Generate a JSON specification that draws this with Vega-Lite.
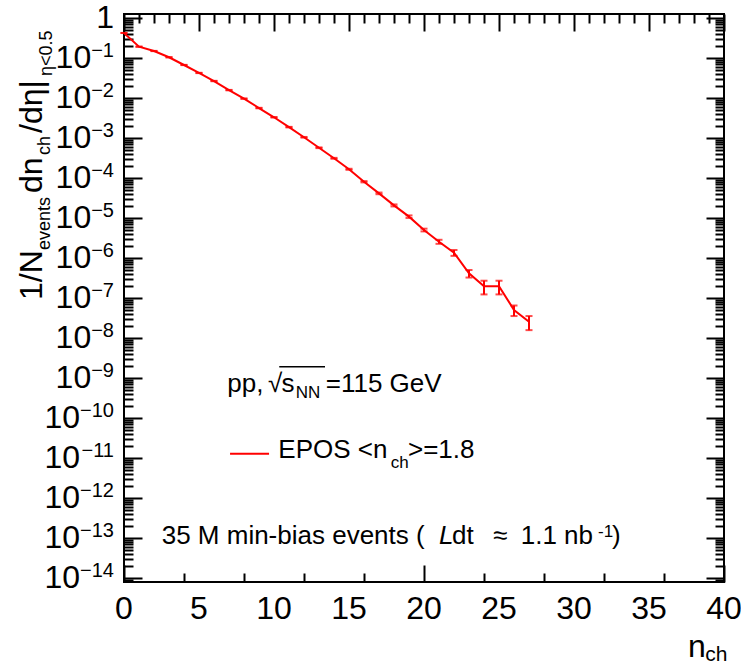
{
  "$schema": "https://vega.github.io/schema/vega-lite/v6.json",
  "width": 600,
  "height": 568,
  "autosize": {"type": "none"},
  "padding": {"left": 124, "top": 14, "right": 17, "bottom": 82},
  "background": "white",
  "config": {
    "view": {"stroke": "black", "strokeWidth": 2},
    "font": "Liberation Sans",
    "text": {"font": "Liberation Sans", "color": "black"}
  },
  "datasets": {
    "epos": [
      {"n": 0, "v": 0.43, "err": 0.001},
      {"n": 1, "v": 0.195, "err": 0.001},
      {"n": 2, "v": 0.152, "err": 0.001},
      {"n": 3, "v": 0.106, "err": 0.001},
      {"n": 4, "v": 0.068, "err": 0.0005},
      {"n": 5, "v": 0.043, "err": 0.0004},
      {"n": 6, "v": 0.027, "err": 0.0003},
      {"n": 7, "v": 0.016, "err": 0.0002},
      {"n": 8, "v": 0.0098, "err": 0.0001},
      {"n": 9, "v": 0.0057, "err": 0.00008},
      {"n": 10, "v": 0.00335, "err": 0.00005},
      {"n": 11, "v": 0.0019, "err": 0.00003},
      {"n": 12, "v": 0.00106, "err": 0.00002},
      {"n": 13, "v": 0.00058, "err": 0.000012},
      {"n": 14, "v": 0.000316, "err": 0.000008},
      {"n": 15, "v": 0.000168, "err": 0.000005},
      {"n": 16, "v": 0.000082, "err": 0.000003},
      {"n": 17, "v": 0.000042, "err": 0.000002},
      {"n": 18, "v": 0.000021, "err": 0.0000012},
      {"n": 19, "v": 0.000011, "err": 0.0000008},
      {"n": 20, "v": 0.0000051, "err": 0.0000004},
      {"n": 21, "v": 0.0000026, "err": 0.0000003},
      {"n": 22, "v": 0.00000138, "err": 0.00000023},
      {"n": 23, "v": 0.00000042, "err": 0.00000009},
      {"n": 24, "v": 0.0000002, "err": 0.000000075},
      {"n": 25, "v": 0.0000002, "err": 0.000000075},
      {"n": 26, "v": 0.000000051, "err": 0.000000015},
      {"n": 27, "v": 0.000000026, "err": 0.00000001}
    ],
    "xlab": [
      {"t": 0, "s": "0"}, {"t": 5, "s": "5"}, {"t": 10, "s": "10"}, {"t": 15, "s": "15"}, {"t": 20, "s": "20"},
      {"t": 25, "s": "25"}, {"t": 30, "s": "30"}, {"t": 35, "s": "35"}, {"t": 40, "s": "40"}
    ],
    "ylab": [
      {"v": 0.1, "e": "−1"}, {"v": 0.01, "e": "−2"}, {"v": 0.001, "e": "−3"}, {"v": 0.0001, "e": "−4"},
      {"v": 1e-5, "e": "−5"}, {"v": 1e-6, "e": "−6"}, {"v": 1e-7, "e": "−7"}, {"v": 1e-8, "e": "−8"},
      {"v": 1e-9, "e": "−9"}, {"v": 1e-10, "e": "−10"}, {"v": 1e-11, "e": "−11"}, {"v": 1e-12, "e": "−12"},
      {"v": 1e-13, "e": "−13"}, {"v": 1e-14, "e": "−14"}
    ]
  },
  "resolve": {"scale": {"x": "independent", "y": "independent"}},
  "layer": [
    {
      "layer": [
        {
          "data": {"name": "epos"},
          "mark": {"type": "line", "color": "#ff0000", "strokeWidth": 2},
          "encoding": {
            "x": {
              "field": "n", "type": "quantitative",
              "scale": {"domain": [0, 40], "nice": false, "zero": false},
              "axis": {
                "orient": "bottom", "title": null, "domain": false, "grid": false, "labels": false,
                "values": [0,1,2,3,4,5,6,7,8,9,10,11,12,13,14,15,16,17,18,19,20,21,22,23,24,25,26,27,28,29,30,31,32,33,34,35,36,37,38,39,40],
                "tickSize": {"condition": {"test": "round(datum.value) % 5 == 0", "value": -17}, "value": -9},
                "tickColor": "black", "tickWidth": 2
              }
            },
            "y": {
              "field": "v", "type": "quantitative",
              "scale": {"type": "log", "domain": [8.08e-15, 1.28], "nice": false},
              "axis": {
                "orient": "left", "title": null, "domain": false, "grid": false, "labels": false,
                "values": [8e-15,9e-15,1e-14,2e-14,3e-14,4e-14,5e-14,6e-14,7e-14,8e-14,9e-14,1e-13,2e-13,3e-13,4e-13,5e-13,6e-13,7e-13,8e-13,9e-13,1e-12,2e-12,3e-12,4e-12,5e-12,6e-12,7e-12,8e-12,9e-12,1e-11,2e-11,3e-11,4e-11,5e-11,6e-11,7e-11,8e-11,9e-11,1e-10,2e-10,3e-10,4e-10,5e-10,6e-10,7e-10,8e-10,9e-10,1e-9,2e-9,3e-9,4e-9,5e-9,6e-9,7e-9,8e-9,9e-9,1e-8,2e-8,3e-8,4e-8,5e-8,6e-8,7e-8,8e-8,9e-8,1e-7,2e-7,3e-7,4e-7,5e-7,6e-7,7e-7,8e-7,9e-7,1e-6,2e-6,3e-6,4e-6,5e-6,6e-6,7e-6,8e-6,9e-6,1e-5,2e-5,3e-5,4e-5,5e-5,6e-5,7e-5,8e-5,9e-5,1e-4,2e-4,3e-4,4e-4,5e-4,6e-4,7e-4,8e-4,9e-4,1e-3,2e-3,3e-3,4e-3,5e-3,6e-3,7e-3,8e-3,9e-3,1e-2,2e-2,3e-2,4e-2,5e-2,6e-2,7e-2,8e-2,9e-2,0.1,0.2,0.3,0.4,0.5,0.6,0.7,0.8,0.9,1],
                "tickSize": {"condition": {"test": "abs(log(datum.value)/LN10 - round(log(datum.value)/LN10)) < 0.000001", "value": -18}, "value": -9},
                "tickColor": "black", "tickWidth": 2
              }
            }
          }
        },
        {
          "data": {"name": "epos"},
          "mark": {"type": "errorbar", "color": "#ff0000", "thickness": 2, "ticks": {"size": 7, "thickness": 2, "color": "#ff0000"}},
          "encoding": {
            "x": {"field": "n", "type": "quantitative"},
            "y": {"field": "v", "type": "quantitative"},
            "yError": {"field": "err"}
          }
        },
        {
          "data": {"name": "xlab"},
          "mark": {"type": "text", "fontSize": 32, "align": "center", "baseline": "middle"},
          "encoding": {"x": {"field": "t", "type": "quantitative"}, "y": {"datum": 1.69e-15, "type": "quantitative"}, "text": {"field": "s"}}
        },
        {
          "data": {"name": "ylab"},
          "transform": [{"filter": "datum.v > 5e-10"}],
          "mark": {"type": "text", "text": "10", "fontSize": 32, "align": "right", "baseline": "middle"},
          "encoding": {"x": {"datum": -2.187}, "y": {"field": "v", "type": "quantitative"}}
        },
        {
          "data": {"name": "ylab"},
          "transform": [{"filter": "datum.v < 5e-10"}],
          "mark": {"type": "text", "text": "10", "fontSize": 32, "align": "right", "baseline": "middle"},
          "encoding": {"x": {"datum": -2.927}, "y": {"field": "v", "type": "quantitative"}}
        },
        {
          "data": {"name": "ylab"},
          "mark": {"type": "text", "fontSize": 20, "align": "right", "baseline": "alphabetic", "dy": -1},
          "encoding": {"x": {"datum": -0.667}, "y": {"field": "v", "type": "quantitative"}, "text": {"field": "e"}}
        },
        {"data": {"values": [{}]}, "mark": {"type": "text", "text": "1", "fontSize": 32, "align": "right", "baseline": "middle"}, "encoding": {"x": {"datum": -0.667}, "y": {"datum": 1, "type": "quantitative"}}},
        {
          "data": {"values": [{}]},
          "mark": {"type": "rule", "color": "#ff0000", "strokeWidth": 2},
          "encoding": {"x": {"datum": 7.07}, "x2": {"datum": 9.67}, "y": {"datum": 1.29e-11, "type": "quantitative"}}
        },
        {
          "data": {"values": [{}]},
          "mark": {"type": "rule", "color": "black", "strokeWidth": 1.5},
          "encoding": {"x": {"datum": 10.35}, "x2": {"datum": 13.4}, "y": {"datum": 1.95e-9, "type": "quantitative"}}
        },
        {"data": {"values": [{}]}, "mark": {"type": "text", "text": "pp,", "fontSize": 26, "align": "left", "baseline": "alphabetic"}, "encoding": {"x": {"datum": 6.887}, "y": {"datum": 4.62e-10, "type": "quantitative"}}},
        {"data": {"values": [{}]}, "mark": {"type": "text", "text": "√", "fontSize": 26, "align": "left", "baseline": "alphabetic"}, "encoding": {"x": {"datum": 9.6}, "y": {"datum": 4.62e-10, "type": "quantitative"}}},
        {"data": {"values": [{}]}, "mark": {"type": "text", "text": "s", "fontSize": 26, "align": "left", "baseline": "alphabetic"}, "encoding": {"x": {"datum": 10.5}, "y": {"datum": 4.62e-10, "type": "quantitative"}}},
        {"data": {"values": [{}]}, "mark": {"type": "text", "text": "NN", "fontSize": 17, "align": "left", "baseline": "alphabetic"}, "encoding": {"x": {"datum": 11.45}, "y": {"datum": 3.16e-10, "type": "quantitative"}}},
        {"data": {"values": [{}]}, "mark": {"type": "text", "text": "=115 GeV", "fontSize": 26, "align": "left", "baseline": "alphabetic"}, "encoding": {"x": {"datum": 13.45}, "y": {"datum": 4.62e-10, "type": "quantitative"}}},
        {"data": {"values": [{}]}, "mark": {"type": "text", "text": "EPOS <n", "fontSize": 26, "align": "left", "baseline": "alphabetic"}, "encoding": {"x": {"datum": 10.29}, "y": {"datum": 1e-11, "type": "quantitative"}}},
        {"data": {"values": [{}]}, "mark": {"type": "text", "text": "ch", "fontSize": 17, "align": "left", "baseline": "alphabetic"}, "encoding": {"x": {"datum": 17.78}, "y": {"datum": 5.75e-12, "type": "quantitative"}}},
        {"data": {"values": [{}]}, "mark": {"type": "text", "text": ">=1.8", "fontSize": 26, "align": "left", "baseline": "alphabetic"}, "encoding": {"x": {"datum": 18.93}, "y": {"datum": 1e-11, "type": "quantitative"}}},
        {"data": {"values": [{}]}, "mark": {"type": "text", "text": "35 M min-bias events ( ", "fontSize": 26, "align": "left", "baseline": "alphabetic"}, "encoding": {"x": {"datum": 2.513}, "y": {"datum": 7.24e-14, "type": "quantitative"}}},
        {"data": {"values": [{}]}, "mark": {"type": "text", "text": "L", "fontSize": 26, "fontStyle": "italic", "align": "left", "baseline": "alphabetic"}, "encoding": {"x": {"datum": 21.0}, "y": {"datum": 7.24e-14, "type": "quantitative"}}},
        {"data": {"values": [{}]}, "mark": {"type": "text", "text": "dt", "fontSize": 26, "align": "left", "baseline": "alphabetic"}, "encoding": {"x": {"datum": 21.87}, "y": {"datum": 7.24e-14, "type": "quantitative"}}},
        {"data": {"values": [{}]}, "mark": {"type": "text", "text": "≈", "fontSize": 26, "align": "left", "baseline": "alphabetic"}, "encoding": {"x": {"datum": 24.6}, "y": {"datum": 7.24e-14, "type": "quantitative"}}},
        {"data": {"values": [{}]}, "mark": {"type": "text", "text": "1.1 nb", "fontSize": 26, "align": "right", "baseline": "alphabetic"}, "encoding": {"x": {"datum": 31.27}, "y": {"datum": 7.24e-14, "type": "quantitative"}}},
        {"data": {"values": [{}]}, "mark": {"type": "text", "text": "-1", "fontSize": 17, "align": "left", "baseline": "alphabetic"}, "encoding": {"x": {"datum": 31.6}, "y": {"datum": 1.07e-13, "type": "quantitative"}}},
        {"data": {"values": [{}]}, "mark": {"type": "text", "text": ")", "fontSize": 26, "align": "left", "baseline": "alphabetic"}, "encoding": {"x": {"datum": 32.53}, "y": {"datum": 7.24e-14, "type": "quantitative"}}},
        {"data": {"values": [{}]}, "mark": {"type": "text", "text": "n", "fontSize": 32, "align": "left", "baseline": "alphabetic"}, "encoding": {"x": {"datum": 37.6}, "y": {"datum": 1.08e-16, "type": "quantitative"}}},
        {"data": {"values": [{}]}, "mark": {"type": "text", "text": "ch", "fontSize": 21, "align": "left", "baseline": "alphabetic"}, "encoding": {"x": {"datum": 38.75}, "y": {"datum": 8.5e-17, "type": "quantitative"}}},
        {"data": {"values": [{}]}, "mark": {"type": "text", "text": "1/N", "fontSize": 32, "angle": 270, "align": "left", "baseline": "alphabetic"}, "encoding": {"x": {"datum": -5.467}, "y": {"datum": 9.07e-8, "type": "quantitative"}}},
        {"data": {"values": [{}]}, "mark": {"type": "text", "text": "events", "fontSize": 18, "angle": 270, "align": "left", "baseline": "alphabetic"}, "encoding": {"x": {"datum": -4.933}, "y": {"datum": 1.612e-6, "type": "quantitative"}}},
        {"data": {"values": [{}]}, "mark": {"type": "text", "text": "dn", "fontSize": 32, "angle": 270, "align": "left", "baseline": "alphabetic"}, "encoding": {"x": {"datum": -5.467}, "y": {"datum": 4.289e-5, "type": "quantitative"}}},
        {"data": {"values": [{}]}, "mark": {"type": "text", "text": "ch", "fontSize": 18, "angle": 270, "align": "left", "baseline": "alphabetic"}, "encoding": {"x": {"datum": -4.933}, "y": {"datum": 3.823e-4, "type": "quantitative"}}},
        {"data": {"values": [{}]}, "mark": {"type": "text", "text": "/dη|", "fontSize": 32, "angle": 270, "align": "left", "baseline": "alphabetic"}, "encoding": {"x": {"datum": -5.467}, "y": {"datum": 1.357e-3, "type": "quantitative"}}},
        {"data": {"values": [{}]}, "mark": {"type": "text", "text": "η<0.5", "fontSize": 18, "angle": 270, "align": "left", "baseline": "alphabetic"}, "encoding": {"x": {"datum": -4.8}, "y": {"datum": 0.0361, "type": "quantitative"}}}
      ]
    },
    {
      "data": {"name": "epos"},
      "mark": {"type": "point", "opacity": 0},
      "encoding": {
        "x": {
          "field": "n", "type": "quantitative",
          "scale": {"domain": [0, 40], "nice": false, "zero": false},
          "axis": {
            "orient": "top", "title": null, "domain": false, "grid": false, "labels": false,
            "values": [0,1,2,3,4,5,6,7,8,9,10,11,12,13,14,15,16,17,18,19,20,21,22,23,24,25,26,27,28,29,30,31,32,33,34,35,36,37,38,39,40],
            "tickSize": {"condition": {"test": "round(datum.value) % 5 == 0", "value": -17}, "value": -9},
            "tickColor": "black", "tickWidth": 2
          }
        },
        "y": {
          "field": "v", "type": "quantitative",
          "scale": {"type": "log", "domain": [8.08e-15, 1.28], "nice": false},
          "axis": {
            "orient": "right", "title": null, "domain": false, "grid": false, "labels": false,
            "values": [8e-15,9e-15,1e-14,2e-14,3e-14,4e-14,5e-14,6e-14,7e-14,8e-14,9e-14,1e-13,2e-13,3e-13,4e-13,5e-13,6e-13,7e-13,8e-13,9e-13,1e-12,2e-12,3e-12,4e-12,5e-12,6e-12,7e-12,8e-12,9e-12,1e-11,2e-11,3e-11,4e-11,5e-11,6e-11,7e-11,8e-11,9e-11,1e-10,2e-10,3e-10,4e-10,5e-10,6e-10,7e-10,8e-10,9e-10,1e-9,2e-9,3e-9,4e-9,5e-9,6e-9,7e-9,8e-9,9e-9,1e-8,2e-8,3e-8,4e-8,5e-8,6e-8,7e-8,8e-8,9e-8,1e-7,2e-7,3e-7,4e-7,5e-7,6e-7,7e-7,8e-7,9e-7,1e-6,2e-6,3e-6,4e-6,5e-6,6e-6,7e-6,8e-6,9e-6,1e-5,2e-5,3e-5,4e-5,5e-5,6e-5,7e-5,8e-5,9e-5,1e-4,2e-4,3e-4,4e-4,5e-4,6e-4,7e-4,8e-4,9e-4,1e-3,2e-3,3e-3,4e-3,5e-3,6e-3,7e-3,8e-3,9e-3,1e-2,2e-2,3e-2,4e-2,5e-2,6e-2,7e-2,8e-2,9e-2,0.1,0.2,0.3,0.4,0.5,0.6,0.7,0.8,0.9,1],
            "tickSize": {"condition": {"test": "abs(log(datum.value)/LN10 - round(log(datum.value)/LN10)) < 0.000001", "value": -18}, "value": -9},
            "tickColor": "black", "tickWidth": 2
          }
        }
      }
    }
  ]
}
